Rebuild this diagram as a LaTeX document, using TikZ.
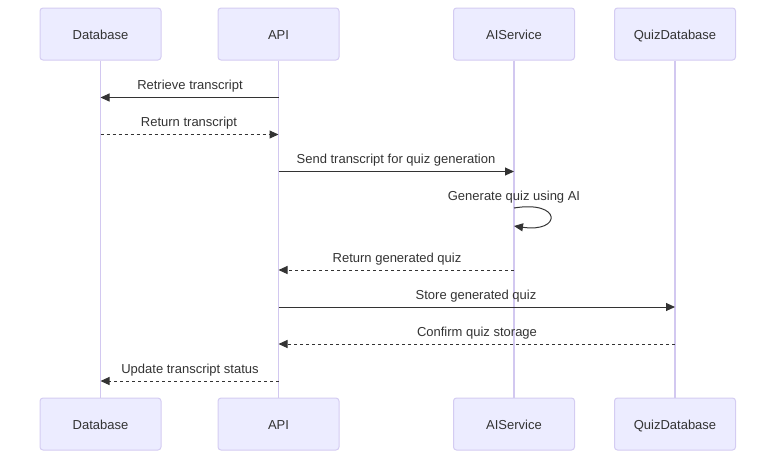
\documentclass[tikz,border=0pt]{standalone}
\usepackage{fontspec}
\setmainfont{Liberation Sans}
\usetikzlibrary{arrows.meta}
\definecolor{actfill}{HTML}{ECECFF}
\definecolor{actline}{HTML}{D4CCF2}
\definecolor{lifeline}{HTML}{D2C8F0}
\definecolor{txt}{HTML}{333333}
\begin{document}
\begin{tikzpicture}[x=1pt,y=-1pt,
  actor/.style={draw=actline,fill=actfill,rounded corners=3pt,line width=1pt,minimum width=121pt,minimum height=52pt,inner sep=0pt,font=\fontsize{13}{15}\selectfont,text=txt,text height=11pt,text depth=0pt},
  life/.style={draw=lifeline,line width=1.3pt},
  msg/.style={draw=txt,line width=1pt,-{Triangle[length=9pt,width=8pt]}},
  ret/.style={msg,dash pattern=on 3pt off 3pt},
  lbl/.style={font=\fontsize{13}{15}\selectfont,text=txt,inner sep=0pt,anchor=base}]
\useasboundingbox (0,0) rectangle (784,464);
% top actors
\node[actor] (dbT) at (100.5,34) {Database};
\node[actor] (apiT) at (278.5,34) {API};
\node[actor] (aiT) at (514,34) {AIService};
\node[actor] (qzT) at (675,34) {QuizDatabase};
% bottom actors
\node[actor] (dbB) at (100.5,424) {Database};
\node[actor] (apiB) at (278.5,424) {API};
\node[actor] (aiB) at (514,424) {AIService};
\node[actor] (qzB) at (675,424) {QuizDatabase};
% lifelines
\draw[life] (dbT.south) -- (dbB.north);
\draw[life] (apiT.south) -- (apiB.north);
\draw[life] (aiT.south) -- (aiB.north);
\draw[life] (qzT.south) -- (qzB.north);
% message endpoints
\coordinate (a1) at (278.5,97.5); \coordinate (d1) at (100.5,97.5);
\coordinate (d2) at (100.5,134.5); \coordinate (a2) at (278.5,134.5);
\coordinate (a3) at (278.5,171.5); \coordinate (i3) at (514,171.5);
\coordinate (i4) at (514,208); \coordinate (i4e) at (514,226);
\coordinate (i5) at (514,270); \coordinate (a5) at (278.5,270);
\coordinate (a6) at (278.5,307); \coordinate (q6) at (675,307);
\coordinate (q7) at (675,344); \coordinate (a7) at (278.5,344);
\coordinate (a8) at (278.5,381); \coordinate (d8) at (100.5,381);
% messages
\draw[msg] (a1) -- (d1);
\node[lbl] (l1) at (190,89) {Retrieve transcript};
\draw[ret] (d2) -- (a2);
\node[lbl] (l2) at (189,126) {Return transcript};
\draw[msg] (a3) -- (i3);
\node[lbl] (l3) at (396,163) {Send transcript for quiz generation};
\node[lbl] (l4) at (514,200) {Generate quiz using AI};
\draw[msg] (i4) .. controls (562,200) and (562,233) .. (i4e);
\draw[ret] (i5) -- (a5);
\node[lbl] (l5) at (397,262) {Return generated quiz};
\draw[msg] (a6) -- (q6);
\node[lbl] (l6) at (476,299) {Store generated quiz};
\draw[ret] (q7) -- (a7);
\node[lbl] (l7) at (477,336) {Confirm quiz storage};
\draw[ret] (a8) -- (d8);
\node[lbl] (l8) at (190,373) {Update transcript status};
\end{tikzpicture}
\end{document}
